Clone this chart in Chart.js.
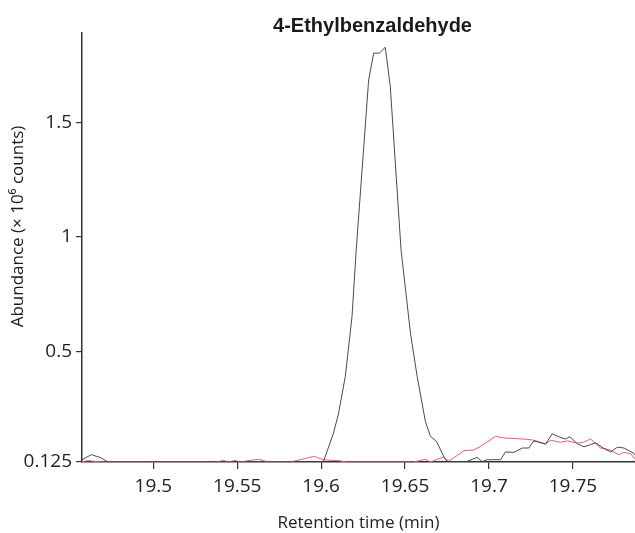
<!DOCTYPE html>
<html>
<head>
<meta charset="utf-8">
<script src="https://cdn.jsdelivr.net/npm/chart.js@4/dist/chart.umd.min.js"></script>
<style>
  body { margin: 0; background: #fff; }
  #wrap { width: 635px; height: 533px; position: relative; }
</style>
</head>
<body>
<div id="wrap"><canvas id="chromChart"></canvas></div>
<script>
// Retention time (min) and abundance (x 10^6 counts)
const blackTimes = [19.4575, 19.4631, 19.4686, 19.4731, 19.6000, 19.6014, 19.6074, 19.6104, 19.6144, 19.6184,
    19.6209, 19.6283, 19.6313, 19.6348, 19.6382, 19.6412, 19.6476, 19.6532, 19.6572, 19.6621,
    19.6651, 19.6687, 19.6740, 19.6760, 19.6860, 19.6930, 19.6959, 19.6989, 19.7069, 19.7098,
    19.7148, 19.7198, 19.7237, 19.7267, 19.7337, 19.7377, 19.7416, 19.7456, 19.7482, 19.7526,
    19.7566, 19.7605, 19.7635, 19.7685, 19.7725, 19.7765, 19.7804, 19.7864, 19.7874];
const blackValues = [0.028, 0.050, 0.037, 0.018, 0.018, 0.021, 0.145, 0.232, 0.392, 0.654,
    0.945, 1.686, 1.803, 1.803, 1.829, 1.657, 0.945, 0.581, 0.392, 0.195,
    0.130, 0.108, 0.028, 0.018, 0.018, 0.038, 0.020, 0.028, 0.028, 0.062,
    0.060, 0.079, 0.079, 0.110, 0.096, 0.141, 0.128, 0.118, 0.128, 0.098,
    0.084, 0.094, 0.102, 0.077, 0.062, 0.083, 0.079, 0.056, 0.045];

const redTimes = [19.4575, 19.4614, 19.4682, 19.5378, 19.5418, 19.5447, 19.5487, 19.5517, 19.5577, 19.5626,
    19.5686, 19.5816, 19.5875, 19.5915, 19.5955, 19.6005, 19.6054, 19.6094, 19.6154, 19.6551,
    19.6621, 19.6651, 19.6730, 19.6760, 19.6810, 19.6850, 19.6909, 19.6949, 19.7039, 19.7088,
    19.7188, 19.7248, 19.7288, 19.7337, 19.7367, 19.7427, 19.7467, 19.7526, 19.7562, 19.7605,
    19.7665, 19.7715, 19.7774, 19.7804, 19.7844, 19.7874];
const redValues = [0.020, 0.024, 0.018, 0.018, 0.025, 0.018, 0.025, 0.018, 0.025, 0.030,
    0.018, 0.018, 0.028, 0.035, 0.043, 0.030, 0.025, 0.025, 0.018, 0.018,
    0.030, 0.018, 0.040, 0.022, 0.046, 0.068, 0.070, 0.086, 0.130, 0.123,
    0.119, 0.116, 0.109, 0.097, 0.113, 0.104, 0.110, 0.100, 0.104, 0.119,
    0.079, 0.072, 0.050, 0.060, 0.054, 0.028];

const xTickValues = [19.5, 19.55, 19.6, 19.65, 19.7, 19.75];
const xTickLabels = ['19.5', '19.55', '19.6', '19.65', '19.7', '19.75'];
const yTickValues = [0.018, 0.5, 1, 1.5];
const yTickLabels = ['0.125', '0.5', '1', '1.5'];

const chartTitle = '4-Ethylbenzaldehyde';
const xTitle = 'Retention time (min)';
const yTitle = 'Abundance (\u00d7 10\u2076 counts)';

const toPoints = (times, values) => times.map((t, i) => ({ x: t, y: values[i] }));

// title and y axis title, drawn by hand so they sit where the original puts them
const textPlugin = {
    id: 'textPlugin',
    afterDraw(chart) {
        const { ctx, chartArea } = chart;
        ctx.save();
        ctx.fillStyle = '#1a1a1a';
        ctx.font = 'bold 20px "Liberation Sans", Arial, sans-serif';
        ctx.textAlign = 'center';
        ctx.textBaseline = 'alphabetic';
        ctx.fillText(chartTitle, (chartArea.left + chartArea.right) / 2 + 14, 32);

        ctx.font = '17px "Open Sans", sans-serif';
        ctx.textBaseline = 'middle';
        ctx.translate(18, (chartArea.top + chartArea.bottom) / 2 - 21);
        ctx.rotate(-Math.PI / 2);
        ctx.fillText(yTitle, 0, 0);
        ctx.restore();
    }
};

const ctx = document.getElementById('chromChart').getContext('2d');
new Chart(ctx, {
    type: 'line',
    data: {
        datasets: [{
            label: 'trace 1',
            data: toPoints(blackTimes, blackValues),
            borderColor: '#4a4a4a',
            borderWidth: 1,
            pointRadius: 0,
            tension: 0
        }, {
            label: 'trace 2',
            data: toPoints(redTimes, redValues),
            borderColor: '#ec5a7c',
            borderWidth: 1,
            pointRadius: 0,
            tension: 0
        }]
    },
    options: {
        responsive: true,
        maintainAspectRatio: false,
        animation: false,
        layout: { padding: { top: 33, right: 0, left: 0, bottom: 0 } },
        plugins: {
            legend: { display: false },
            tooltip: { enabled: false }
        },
        scales: {
            x: {
                type: 'linear',
                min: 19.4575,
                max: 19.787,
                afterBuildTicks: scale => { scale.ticks = xTickValues.map(v => ({ value: v })); },
                afterFit: scale => { scale.height = 71; },
                grid: { display: true, drawOnChartArea: false, drawTicks: true, tickLength: 7, color: '#333', lineWidth: 1.2 },
                border: { display: true, color: '#333', width: 1.5 },
                ticks: {
                    color: '#222',
                    padding: 6,
                    maxRotation: 0,
                    autoSkip: false,
                    font: { family: '"Open Sans", sans-serif', size: 19 },
                    callback: (v, i) => xTickLabels[i]
                },
                title: {
                    display: true,
                    text: xTitle,
                    color: '#222',
                    font: { family: '"Open Sans", sans-serif', size: 17 },
                    padding: { top: 0, bottom: 0 }
                }
            },
            y: {
                type: 'linear',
                min: 0.018,
                max: 1.891,
                afterBuildTicks: scale => { scale.ticks = yTickValues.map(v => ({ value: v })); },
                afterFit: scale => { scale.width = 82; },
                grid: { display: true, drawOnChartArea: false, drawTicks: true, tickLength: 6, color: '#333', lineWidth: 1.2 },
                border: { display: true, color: '#333', width: 1.5 },
                ticks: {
                    color: '#222',
                    padding: 4,
                    autoSkip: false,
                    font: { family: '"Open Sans", sans-serif', size: 19 },
                    callback: (v, i) => yTickLabels[i]
                }
            }
        }
    },
    plugins: [textPlugin]
});
</script>
</body>
</html>
